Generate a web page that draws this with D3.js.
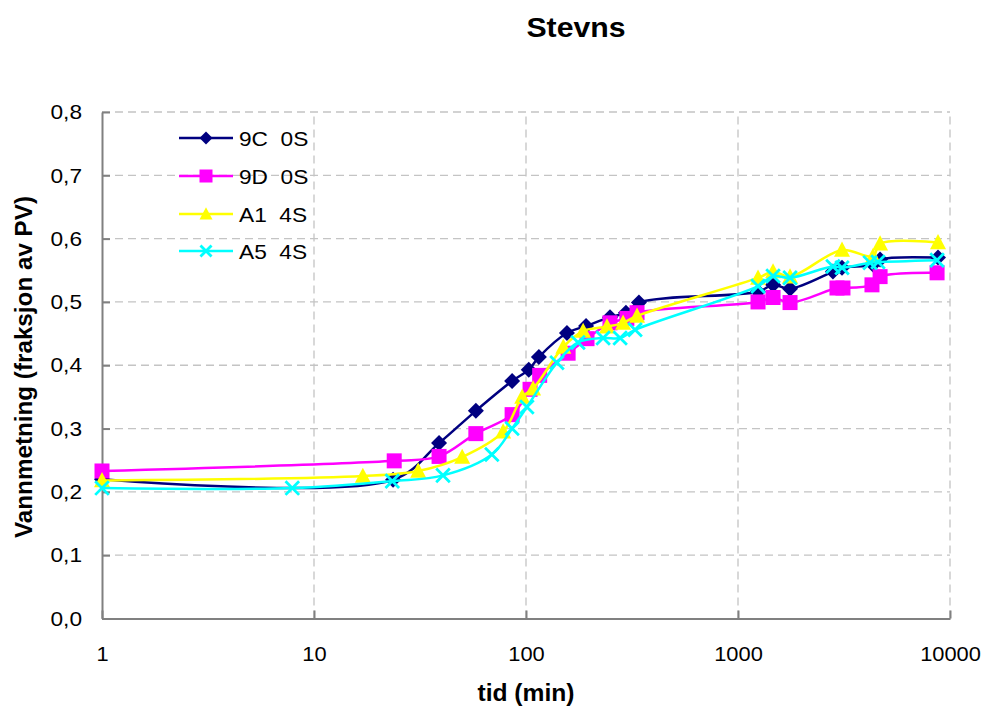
<!DOCTYPE html>
<html>
<head>
<meta charset="utf-8">
<script src="https://cdn.jsdelivr.net/npm/d3@7"></script>
<style>
  body { margin: 0; background: #fff; }
  text { font-family: "Liberation Sans", Arial, sans-serif; fill: #000; }
</style>
</head>
<body>
<div id="chart"></div>
<script>
// data (time in minutes, saturation as fraction of PV)
const seriesNames = ["9C  0S", "9D  0S", "A1  4S", "A5  4S"];

const time9C = [1, 23.6, 38.9, 58, 86, 103, 115, 156, 192, 249, 296, 341, 1243, 1463, 1760, 2805, 3095, 4330, 4680, 8780];
const sat9C  = [0.220, 0.219, 0.277, 0.328, 0.375, 0.393, 0.413, 0.451, 0.462, 0.476, 0.483, 0.499, 0.516, 0.527, 0.521, 0.548, 0.554, 0.559, 0.567, 0.570];

const time9D = [1, 23.9, 38.9, 58, 86, 104.5, 116, 158, 194, 249, 299, 334, 1243, 1463, 1760, 2930, 3127, 4285, 4680, 8690];
const sat9D  = [0.233, 0.249, 0.256, 0.292, 0.322, 0.362, 0.384, 0.419, 0.442, 0.467, 0.474, 0.483, 0.500, 0.507, 0.499, 0.522, 0.522, 0.527, 0.540, 0.546];

const timeA1 = [1, 17, 31, 50, 78, 96, 108, 150, 186, 241, 287, 334, 1243, 1463, 1760, 3095, 4330, 4680, 8780];
const satA1  = [0.218, 0.225, 0.233, 0.255, 0.295, 0.350, 0.363, 0.429, 0.454, 0.461, 0.467, 0.478, 0.538, 0.548, 0.540, 0.582, 0.572, 0.592, 0.594];

const timeA5 = [1, 7.9, 23.4, 40.6, 69, 86, 101, 140, 176, 231, 278, 327, 1243, 1463, 1760, 2805, 3095, 4195, 4575, 8690];
const satA5  = [0.206, 0.206, 0.217, 0.226, 0.259, 0.300, 0.334, 0.404, 0.436, 0.443, 0.443, 0.456, 0.525, 0.541, 0.538, 0.556, 0.554, 0.562, 0.563, 0.566];

const xTicks = [1, 10, 100, 1000, 10000];
const yTicks = [0, 0.1, 0.2, 0.3, 0.4, 0.5, 0.6, 0.7, 0.8];

const colors = ["#000080", "#ff00ff", "#ffff00", "#00ffff"];
const markers = ["diamond", "square", "triangle", "cross"];

const series = [
  {name: seriesNames[0], t: time9C, s: sat9C},
  {name: seriesNames[1], t: time9D, s: sat9D},
  {name: seriesNames[2], t: timeA1, s: satA1},
  {name: seriesNames[3], t: timeA5, s: satA5}
].map((d, i) => ({
  name: d.name, color: colors[i], marker: markers[i],
  values: d.t.map((t, j) => ({t: t, s: d.s[j]}))
}));

const width = 990, height = 711;
const svg = d3.select("#chart").append("svg")
  .attr("width", width)
  .attr("height", height);

const x = d3.scaleLog().domain([1, 10000]).range([102, 950]);
const y = d3.scaleLinear().domain([0, 0.8]).range([618.5, 112]);

// text rendered a bit wider than the font metrics, like the original
function stretch(sel, k) {
  sel.each(function() {
    let w = this.getComputedTextLength();
    d3.select(this).attr("textLength", w * k).attr("lengthAdjust", "spacingAndGlyphs");
  });
}

// grid
svg.append("g").selectAll("line")
  .data(yTicks.slice(1))
  .join("line")
  .attr("x1", x(1)).attr("x2", x(10000))
  .attr("y1", d => y(d)).attr("y2", d => y(d))
  .attr("stroke", "#c4c4c4").attr("stroke-width", 1.3)
  .attr("stroke-dasharray", "8,5");

svg.append("g").selectAll("line")
  .data(xTicks.slice(1))
  .join("line")
  .attr("x1", d => x(d)).attr("x2", d => x(d))
  .attr("y1", y(0)).attr("y2", y(0.8))
  .attr("stroke", "#c4c4c4").attr("stroke-width", 1.3)
  .attr("stroke-dasharray", "8,5");

// axes
const fmt = d => d3.format(".1f")(d).replace(".", ",");

const yAxis = svg.append("g")
  .attr("transform", "translate(" + x(1) + ",0)")
  .call(d3.axisLeft(y).tickValues(yTicks).tickFormat(fmt).tickSizeInner(-8).tickSizeOuter(0).tickPadding(20));

const xAxis = svg.append("g")
  .attr("transform", "translate(0," + y(0) + ")")
  .call(d3.axisBottom(x).tickValues(xTicks).tickFormat(d3.format("d")).tickSizeInner(-8).tickSizeOuter(0).tickPadding(28));

[yAxis, xAxis].forEach(a => {
  a.select(".domain").attr("stroke", "#808080").attr("stroke-width", 2);
  a.selectAll(".tick line").attr("stroke", "#808080").attr("stroke-width", 2);
  a.selectAll(".tick text")
    .style("font-family", "Liberation Sans, Arial, sans-serif")
    .style("font-size", "21px")
    .attr("fill", "#000");
});
stretch(yAxis.selectAll(".tick text"), 1.08);
stretch(xAxis.selectAll(".tick text"), 1.04);

// markers
function drawMarker(g, type, color, r) {
  if (type === "diamond") {
    g.append("path")
      .attr("d", "M0," + (-r) + "L" + r + ",0L0," + r + "L" + (-r) + ",0Z")
      .attr("fill", color);
  } else if (type === "square") {
    g.append("rect")
      .attr("x", -r).attr("y", -r).attr("width", 2 * r).attr("height", 2 * r)
      .attr("fill", color);
  } else if (type === "triangle") {
    g.append("path")
      .attr("d", "M0," + (-r * 1.05) + "L" + r + "," + (r * 0.85) + "L" + (-r) + "," + (r * 0.85) + "Z")
      .attr("fill", color);
  } else {
    let c = r * 0.85;
    g.append("path")
      .attr("d", "M" + (-c) + "," + (-c) + "L" + c + "," + c + "M" + (-c) + "," + c + "L" + c + "," + (-c))
      .attr("stroke", color).attr("stroke-width", 2.8).attr("fill", "none");
  }
}

const markerR = {diamond: 8, square: 7.5, triangle: 8, cross: 8};

const line = d3.line()
  .x(d => x(d.t))
  .y(d => y(d.s))
  .curve(d3.curveCatmullRom.alpha(0.5));

series.forEach(sr => {
  let g = svg.append("g").attr("class", "series");
  g.append("path")
    .datum(sr.values)
    .attr("d", line)
    .attr("fill", "none")
    .attr("stroke", sr.color)
    .attr("stroke-width", 2.5);
  g.selectAll(".pt")
    .data(sr.values)
    .join("g")
    .attr("class", "pt")
    .attr("transform", d => "translate(" + x(d.t) + "," + y(d.s) + ")")
    .each(function() { drawMarker(d3.select(this), sr.marker, sr.color, markerR[sr.marker]); });
});

// legend
const legendY = [138, 176, 214, 251];
const legend = svg.append("g");
series.forEach((sr, i) => {
  let row = legend.append("g").attr("transform", "translate(0," + legendY[i] + ")");
  row.append("line")
    .attr("x1", 179).attr("x2", 233)
    .attr("stroke", sr.color).attr("stroke-width", 2.5);
  drawMarker(row.append("g").attr("transform", "translate(206,0)"), sr.marker, sr.color, 6.5);
  row.append("text")
    .attr("x", 239).attr("dy", "0.36em")
    .style("font-size", "21px")
    .style("white-space", "pre")
    .text(sr.name)
    .call(stretch, 1.08);
});

// titles
svg.append("text")
  .attr("x", 576).attr("y", 27).attr("dy", "0.36em")
  .attr("text-anchor", "middle")
  .style("font-size", "28px").style("font-weight", "bold")
  .text("Stevns")
  .call(stretch, 1.08);

svg.append("text")
  .attr("x", 526).attr("y", 693).attr("dy", "0.36em")
  .attr("text-anchor", "middle")
  .style("font-size", "23px").style("font-weight", "bold")
  .text("tid (min)")
  .call(stretch, 1.07);

svg.append("text")
  .attr("transform", "translate(24,367) rotate(-90)")
  .attr("dy", "0.36em")
  .attr("text-anchor", "middle")
  .style("font-size", "23px").style("font-weight", "bold")
  .text("Vannmetning (fraksjon av PV)")
  .attr("textLength", 342).attr("lengthAdjust", "spacingAndGlyphs");
</script>
</body>
</html>
